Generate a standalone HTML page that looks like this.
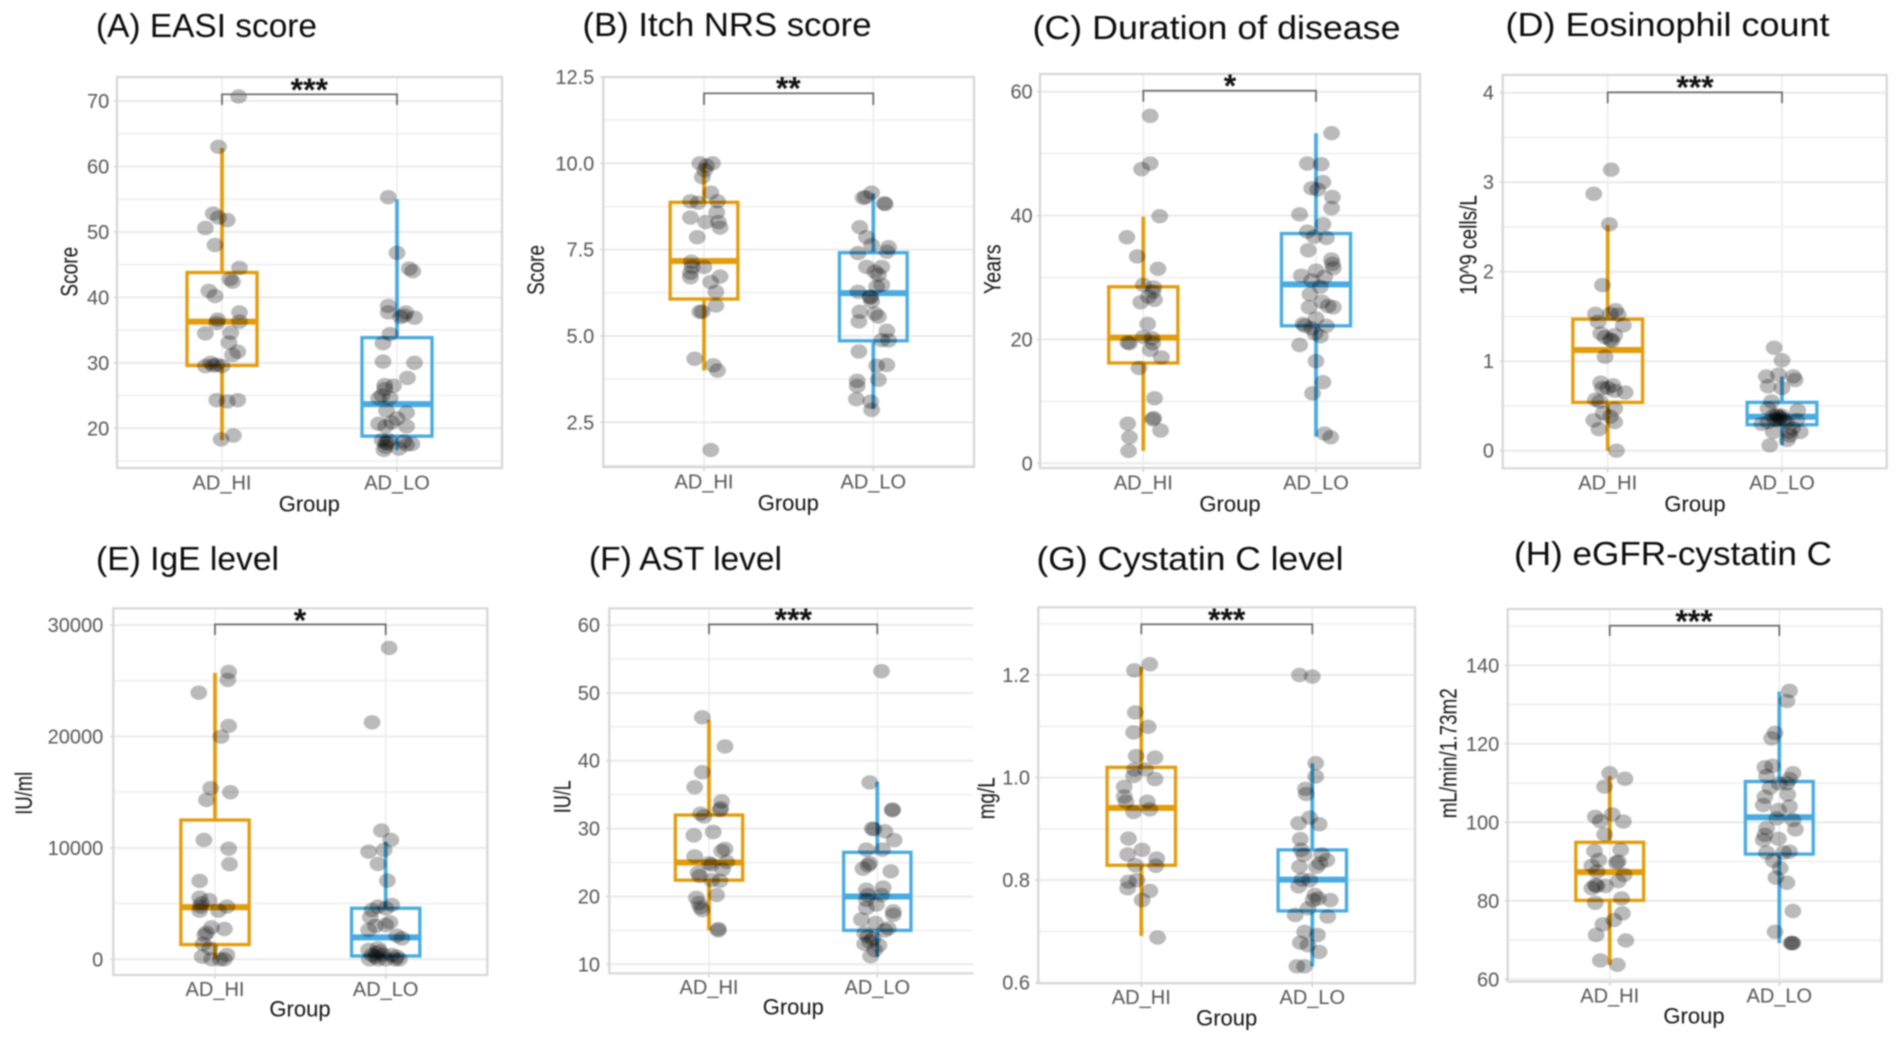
<!DOCTYPE html>
<html lang="en">
<head>
<meta charset="utf-8">
<title>AD_HI vs AD_LO group comparisons</title>
<style>
html,body{margin:0;padding:0;background:#fff;width:1902px;height:1039px;overflow:hidden}
svg{display:block;filter:blur(0.7px);font-family:"Liberation Sans",sans-serif}
.title{font-size:33px;fill:#0a0a0a}
.xt{font-size:22px;fill:#111;text-anchor:middle}
.yt{font-size:24px;fill:#111;text-anchor:middle}
.sig{font-size:32px;font-weight:700;fill:#111;text-anchor:middle}
</style>
</head>
<body>
<svg id="figure" xmlns="http://www.w3.org/2000/svg" width="1902" height="1039" viewBox="0 0 1902 1039">
  <rect width="1902" height="1039" fill="#fff"/>

  <g id="panel-a"></g>
  <g id="panel-b"></g>
  <g id="panel-c"></g>
  <g id="panel-d"></g>
  <g id="panel-e"></g>
  <g id="panel-f"></g>
  <g id="panel-g"></g>
  <g id="panel-h"></g>

  <text class="title" x="96" y="37" textLength="221" lengthAdjust="spacingAndGlyphs">(A) EASI score</text>
  <text class="title" x="582.5" y="36" textLength="289" lengthAdjust="spacingAndGlyphs">(B) Itch NRS score</text>
  <text class="title" x="1032.5" y="39" textLength="368" lengthAdjust="spacingAndGlyphs">(C) Duration of disease</text>
  <text class="title" x="1505.5" y="36" textLength="324" lengthAdjust="spacingAndGlyphs">(D) Eosinophil count</text>
  <text class="title" x="96" y="570" textLength="183" lengthAdjust="spacingAndGlyphs">(E) IgE level</text>
  <text class="title" x="589" y="570" textLength="193" lengthAdjust="spacingAndGlyphs">(F) AST level</text>
  <text class="title" x="1036.5" y="570" textLength="307" lengthAdjust="spacingAndGlyphs">(G) Cystatin C level</text>
  <text class="title" x="1514" y="565" textLength="318" lengthAdjust="spacingAndGlyphs">(H) eGFR-cystatin C</text>

  <text class="xt" x="309.3" y="511.7">Group</text>
  <text class="xt" x="788.3" y="510.7">Group</text>
  <text class="xt" x="1230" y="511.7">Group</text>
  <text class="xt" x="1695" y="511.7">Group</text>
  <text class="xt" x="300" y="1016.7">Group</text>
  <text class="xt" x="793.3" y="1014.3">Group</text>
  <text class="xt" x="1226.7" y="1025.7">Group</text>
  <text class="xt" x="1694" y="1023.3">Group</text>

  <text class="yt" transform="translate(77.5,271.7) rotate(-90)" textLength="50" lengthAdjust="spacingAndGlyphs">Score</text>
  <text class="yt" transform="translate(544,270) rotate(-90)" textLength="50" lengthAdjust="spacingAndGlyphs">Score</text>
  <text class="yt" transform="translate(1000.5,269.3) rotate(-90)" textLength="50" lengthAdjust="spacingAndGlyphs">Years</text>
  <text class="yt" transform="translate(1476.5,245) rotate(-90)" textLength="100" lengthAdjust="spacingAndGlyphs">10^9 cells/L</text>
  <text class="yt" transform="translate(32,793.3) rotate(-90)" textLength="43" lengthAdjust="spacingAndGlyphs">IU/ml</text>
  <text class="yt" transform="translate(570.5,796.7) rotate(-90)" textLength="33" lengthAdjust="spacingAndGlyphs">IU/L</text>
  <text class="yt" transform="translate(994.5,798.3) rotate(-90)" textLength="42" lengthAdjust="spacingAndGlyphs">mg/L</text>
  <text class="yt" transform="translate(1456.5,753.3) rotate(-90)" textLength="130" lengthAdjust="spacingAndGlyphs">mL/min/1.73m2</text>

  <text class="sig" x="309.3" y="101">***</text>
  <text class="sig" x="788.3" y="99.3">**</text>
  <text class="sig" x="1230" y="97">*</text>
  <text class="sig" x="1695" y="98.7">***</text>
  <text class="sig" x="300" y="631.7">*</text>
  <text class="sig" x="793.3" y="631">***</text>
  <text class="sig" x="1226.7" y="631">***</text>
  <text class="sig" x="1694" y="632.7">***</text>
</svg>

<script>
const categories = ['AD_HI', 'AD_LO'];

/* Box summaries are: lower whisker, Q1, median, Q3, upper whisker */
/* Jitter is the horizontal offset of a point, in category units */

const easiTicks = [20, 30, 40, 50, 60, 70];
const easiHiBox = [18.2, 29.6, 36.3, 43.8, 62.8];
const easiLoBox = [16.7, 18.8, 23.7, 33.85, 55];
const easiHiValues = [70.7,63,52.8,52.2,51.8,50.6,48,44.5,42.8,42.4,41,40.2,37.7,36.6,36.1,36.3,34.5,34.6,33.1,31.7,31.2,30,29.5,29.6,29.5,29.7,24.3,24.1,24.3,18.9,18.3];
const easiHiJitter = [.095,-.02,-.05,-.02,.03,-.095,-.04,.1,.045,.06,-.075,-.04,.1,-.025,-.03,.1,-.095,.05,.04,.09,.06,-.065,-.095,-.05,0,-.03,-.03,.03,.09,.065,-.005];
const easiLoValues = [55.3,46.8,44.4,44,38.7,37.7,37.7,37,37.2,36.9,34.4,33,30.2,30,27.7,26.6,26.5,26,25,24.6,24.6,22.7,22.4,21.5,20.9,20.7,20.3,20.3,18.2,17.8,18.2,18,17.6,17.5,16.7,16.9,17.2,17.7];
const easiLoJitter = [-.05,0,.07,.09,-.05,-.05,.05,.02,.04,.1,-.04,-.08,-.08,.1,.06,-.07,-.02,-.07,-.085,-.105,-.04,-.06,.055,0,-.03,-.105,-.065,.055,-.085,-.065,-.05,.04,.085,.055,-.075,.01,-.065,-.055];

const itchTicks = [2.5, 5, 7.5, 10, 12.5];
const itchHiBox = [4, 6.07, 7.17, 8.87, 10];
const itchLoBox = [2.88, 4.86, 6.24, 7.41, 9.13];
const itchHiValues = [10,10,9.93,9.8,9.6,9.15,8.9,8.86,8.9,8.58,8.43,8.3,8.3,8.14,7.86,7.15,7,7,6.83,6.7,6.72,6.56,6.28,5.88,5.7,5.7,4.34,4.15,4,1.7];
const itchHiJitter = [-.025,.05,.015,.005,-.01,.04,-.08,-.035,.08,.075,-.08,.01,.085,.095,-.04,-.075,-.07,0,-.08,-.08,.095,.04,.07,.07,-.025,-.01,-.055,.055,.08,.04];
const itchLoValues = [9.15,9,9.02,8.84,8.82,8.15,7.86,7.63,7.57,7.44,7.4,7,7,6.86,6.77,6.48,6.43,6.28,6.14,6.12,6,5.7,5.65,5.56,5.42,5.15,4.87,4.88,4.55,4.14,4.16,3.73,3.7,3.55,3.17,3.1,2.86];
const itchLoJitter = [-.01,-.06,-.045,.065,.07,-.08,-.04,-.01,.09,.08,-.09,.05,-.04,.01,.03,.05,.02,-.09,-.02,-.015,-.01,-.08,.01,.03,-.085,.08,.09,.05,-.085,.02,.08,.03,-.095,-.095,-.1,-.015,-.01];

const durationTicks = [0, 20, 40, 60];
const durationHiBox = [2, 16.2, 20.3, 28.5, 39.8];
const durationLoBox = [4.3, 22.2, 28.9, 37.1, 53.3];
const durationHiValues = [56.1,48.4,47.5,39.9,36.5,33.4,31.4,28.8,28.4,27.7,26.9,26.4,26,22.5,20.4,20.2,19.5,19.4,19.4,18.3,17.1,15.4,10.5,7.3,7.1,5.3,6.4,4.2,2];
const durationHiJitter = [.04,.04,-.01,.095,-.095,-.035,.085,0,.06,.055,.03,.065,-.015,.025,0,.05,-.09,-.08,.055,.04,.105,-.025,.065,.06,.055,.1,-.09,-.08,-.085];
const durationLoValues = [53.3,48.4,48.3,45.4,44.4,44.2,43,41.2,40.2,38.6,37.4,36.6,36.4,34.4,32.9,32.2,31.5,31.1,30.3,30.1,29.5,28.5,27.3,26.1,25.2,25.4,25.2,23.4,22.5,22.2,22.2,21.8,21,20.5,19.1,16.5,13.1,11.3,4.8,4.2];
const durationLoJitter = [.09,-.05,.03,.04,-.025,.01,.095,.09,-.095,.04,-.05,-.01,.06,-.045,.09,.095,.1,0,-.085,.05,-.025,.025,-.035,.035,-.04,.07,.1,0,-.075,-.065,.06,-.025,-.005,.025,-.095,0,.04,-.02,.05,.085];

const eosinophilTicks = [0, 1, 2, 3, 4];
const eosinophilHiBox = [0, .54, 1.125, 1.47, 2.52];
const eosinophilLoBox = [.06, .29, .38, .54, .83];
const eosinophilHiValues = [3.14,2.87,2.53,1.85,1.53,1.57,1.53,1.52,1.44,1.4,1.31,1.29,1.27,1.24,1.23,1.05,.76,.73,.7,.67,.65,.7,.57,.55,.47,.38,.34,.32,.24,.42,0];
const eosinophilHiJitter = [.02,-.08,.01,-.03,-.07,.045,.015,.06,-.055,.09,-.04,.04,-.015,.015,.025,-.015,-.04,.03,-.03,.04,.1,0,-.07,-.045,.04,.015,-.08,.04,-.05,-.025,.05];
const eosinophilLoValues = [1.15,1.01,.85,.83,.83,.79,.72,.7,.55,.45,.47,.4,.38,.36,.35,.35,.39,.34,.39,.32,.32,.3,.34,.21,.21,.25,.21,.12,.06,.17];
const eosinophilLoJitter = [-.045,0,-.02,-.09,.065,.075,-.08,0,-.06,.09,-.08,-.03,-.02,-.01,-.04,.01,-.05,-.025,0,.025,-.08,-.115,.085,-.05,.04,.06,.105,.03,-.07,.045];

const igeTicks = [0, 10000, 20000, 30000];
const igeHiBox = [0, 1320, 4670, 12500, 25700];
const igeLoBox = [0, 300, 1970, 4580, 10560];
const igeHiValues = [25790,25070,23930,20940,19980,15350,14990,14300,10710,9930,8530,7030,5530,5320,5030,4730,4370,4730,4370,2870,2720,2390,2180,1380,990,240,390,0,0,0];
const igeHiJitter = [.08,.075,-.095,.08,.035,-.025,.09,-.05,-.065,.08,.085,-.09,-.09,-.035,-.08,-.085,-.09,.07,.02,-.02,.055,-.05,-.06,-.07,-.03,-.075,.07,-.02,.03,.055];
const igeLoValues = [27940,21270,11550,10710,9810,9660,8560,7060,4730,4880,4580,4430,3770,3320,3080,2990,2630,2120,1880,840,990,690,390,240,390,390,240,0,0,0,0,0,540];
const igeLoJitter = [.02,-.08,-.025,.03,-.01,-.1,-.045,.01,-.045,.035,0,-.08,-.09,.025,0,-.06,-.1,.065,.095,-.1,-.045,-.035,-.08,-.06,-.015,.035,.065,-.095,-.045,0,.055,.08,-.055];

const astTicks = [10, 20, 30, 40, 50, 60];
const astHiBox = [15, 22.4, 25, 32, 46];
const astLoBox = [11.1, 15, 20, 26.5, 36.9];
const astHiValues = [46.4,42.1,38.3,36.1,34,33,32.7,32.2,31.8,29,29.5,27,26.7,25.9,25.1,24.9,24.7,24,23.5,23,22.4,22.3,20.2,19.8,19,18.4,18,15.2,15];
const astHiJitter = [-.04,.095,-.04,-.085,.075,.07,.065,-.05,-.03,-.09,.025,.095,.075,-.085,.105,0,.015,.08,-.065,-.055,.015,.065,.045,-.075,-.06,-.05,-.04,.055,.055];
const astLoValues = [53.2,36.8,32.8,32.7,30,29.9,29.6,28.3,26.9,26.9,24.9,24.6,24.1,23.7,21,21.3,20.2,20.2,19.5,18.8,18.3,17.8,17.3,16.6,16.1,15.3,15,14.6,14.1,13.8,13,12.8,13.3,12.1,11.2];
const astLoJitter = [.025,-.045,.09,.09,-.03,-.02,.045,.1,-.065,.03,-.045,-.055,-.085,.08,-.065,.035,-.055,.025,-.065,-.005,-.065,.095,.095,-.095,-.01,.065,.045,-.075,-.055,-.025,-.075,.01,-.045,-.015,-.04];

const cystatinTicks = [0.6, 0.8, 1.0, 1.2];
const cystatinHiBox = [.691, .829, .941, 1.02, 1.216];
const cystatinLoBox = [.632, .74, .801, .859, 1.028];
const cystatinHiValues = [1.221,1.209,1.127,1.099,1.088,1.042,1.039,1.016,1.016,1.003,.997,.982,.963,.953,.953,.938,.933,.881,.859,.85,.842,.829,.828,.797,.8,.784,.779,.761,.688];
const cystatinHiJitter = [.05,-.04,-.035,.04,-.045,-.03,.08,-.04,.025,-.045,.08,-.1,-.1,-.09,.035,.05,-.045,-.075,.005,-.08,.09,-.035,.085,-.075,-.025,-.08,.05,.005,.095];
const cystatinLoValues = [1.2,1.197,1.028,1.002,.978,.968,.922,.911,.909,.88,.859,.849,.85,.839,.833,.826,.826,.801,.788,.8,.771,.764,.761,.761,.745,.732,.729,.699,.693,.678,.673,.66,.632,.632];
const cystatinLoJitter = [-.075,0,.02,.02,-.04,-.035,-.015,-.08,.04,-.07,-.065,-.05,.055,.085,.045,-.075,.025,-.06,-.08,-.015,.015,.035,.105,.005,-.025,-.1,.09,-.045,.03,-.07,-.025,.04,-.09,-.045];

const egfrTicks = [60, 80, 100, 120, 140];
const egfrHiBox = [63.7, 80.1, 87.3, 94.9, 111.8];
const egfrLoBox = [69.2, 91.9, 101.3, 110.4, 133.3];
const egfrHiValues = [112.5,111.1,109.1,101.4,102,100.3,100.2,96.9,92.7,93,90.4,90,89.7,88.9,87.4,86.6,85,84,83.8,83.2,83.8,80.6,79.5,76.8,75.1,74,71.3,69.9,64.8,63.7];
const egfrHiJitter = [0,.09,-.03,-.085,.015,-.055,.08,-.03,-.09,.065,-.065,.05,.04,-.105,-.075,.085,.05,-.085,-.025,-.105,-.075,.07,-.085,.075,.025,-.04,-.08,.095,-.055,.045];
const egfrLoValues = [133.5,130.9,122.8,121.4,114,114.4,111.8,112.5,111,109.9,109.9,108.8,107.1,106.5,104.4,104,103.1,101,100.6,98.5,98.2,96.8,95.5,95.8,92.3,92.3,92.5,90.2,88.3,85.9,84.6,77.4,72.1,69.2,69.2,69.3];
const egfrLoJitter = [.06,.045,-.025,-.045,-.085,-.04,-.075,.08,.06,.045,0,-.055,.05,-.085,-.095,.06,-.005,-.015,.08,-.075,.095,-.085,-.095,-.005,-.075,.025,.06,-.035,.005,-.02,.045,.08,-.025,.07,.08,.075];

/* Panel layout: frame edges, category centres and two calibration anchors for the y axis */
const panels = [
  {id:'panel-a', key:'a', left:117, right:502, top:77, bottom:468, c0:222, c1:397, v0:20, p0:428.3, v1:70, p1:101, labelRight:109.3, xLabelY:489.3, bracketY:94.3, bracketTip:105, ticks:easiTicks, hiBox:easiHiBox, loBox:easiLoBox, hi:easiHiValues, hiJ:easiHiJitter, lo:easiLoValues, loJ:easiLoJitter},
  {id:'panel-b', key:'b', left:603.3, right:974, top:77, bottom:467, c0:704, c1:873.3, v0:2.5, p0:422.3, v1:10, p1:163.3, labelRight:594.3, xLabelY:488.3, bracketY:93.3, bracketTip:105, ticks:itchTicks, hiBox:itchHiBox, loBox:itchLoBox, hi:itchHiValues, hiJ:itchHiJitter, lo:itchLoValues, loJ:itchLoJitter},
  {id:'panel-c', key:'c', left:1040, right:1420, top:74, bottom:468, c0:1143.3, c1:1316, v0:0, p0:463.3, v1:60, p1:91.7, labelRight:1032.7, xLabelY:489.3, bracketY:90.7, bracketTip:101.7, ticks:durationTicks, hiBox:durationHiBox, loBox:durationLoBox, hi:durationHiValues, hiJ:durationHiJitter, lo:durationLoValues, loJ:durationLoJitter},
  {id:'panel-d', key:'d', left:1502.7, right:1886.7, top:75, bottom:468.3, c0:1607.7, c1:1782, v0:0, p0:450.7, v1:4, p1:92.7, labelRight:1494, xLabelY:489.3, bracketY:92.3, bracketTip:103.3, ticks:eosinophilTicks, hiBox:eosinophilHiBox, loBox:eosinophilLoBox, hi:eosinophilHiValues, hiJ:eosinophilHiJitter, lo:eosinophilLoValues, loJ:eosinophilLoJitter},
  {id:'panel-e', key:'e', left:113.3, right:487.3, top:608.3, bottom:975, c0:215, c1:385.7, v0:0, p0:959.3, v1:30000, p1:625, labelRight:103.3, xLabelY:996, bracketY:624.3, bracketTip:635, ticks:igeTicks, hiBox:igeHiBox, loBox:igeLoBox, hi:igeHiValues, hiJ:igeHiJitter, lo:igeLoValues, loJ:igeLoJitter},
  {id:'panel-f', key:'f', left:609.3, right:973.3, top:608.3, bottom:973.3, c0:709, c1:877.3, v0:10, p0:964.3, v1:60, p1:625, labelRight:600, xLabelY:994, bracketY:624.3, bracketTip:634.3, open:true, ticks:astTicks, hiBox:astHiBox, loBox:astLoBox, hi:astHiValues, hiJ:astHiJitter, lo:astLoValues, loJ:astLoJitter},
  {id:'panel-g', key:'g', left:1038.3, right:1415, top:607.3, bottom:983.3, c0:1141.3, c1:1312.3, v0:0.6, p0:982.7, v1:1.2, p1:675, labelRight:1030, xLabelY:1004, bracketY:624.3, bracketTip:634.3, decimals:1, ticks:cystatinTicks, hiBox:cystatinHiBox, loBox:cystatinLoBox, hi:cystatinHiValues, hiJ:cystatinHiJitter, lo:cystatinLoValues, loJ:cystatinLoJitter},
  {id:'panel-h', key:'h', left:1507.7, right:1881.7, top:609, bottom:981.7, c0:1609.7, c1:1779.3, v0:60, p0:979.3, v1:140, p1:665.3, labelRight:1499.3, xLabelY:1002.3, bracketY:625.7, bracketTip:636, ticks:egfrTicks, hiBox:egfrHiBox, loBox:egfrLoBox, hi:egfrHiValues, hiJ:egfrHiJitter, lo:egfrLoValues, loJ:egfrLoJitter}
];

const SVG_NS = 'http://www.w3.org/2000/svg';
const seriesColors = ['#E39C0C', '#48ABE2'];
const boxWidth = 0.4;

function svgEl(tag, props, parent) {
  const n = document.createElementNS(SVG_NS, tag);
  for (const k in props) n.setAttribute(k, props[k]);
  parent.appendChild(n);
  return n;
}
function yScale(p) {
  const m = (p.p1 - p.p0) / (p.v1 - p.v0);
  return v => p.p0 + (v - p.v0) * m;
}
function yInvert(p, px) {
  return p.v0 + (px - p.p0) * (p.v1 - p.v0) / (p.p1 - p.p0);
}
function xScale(p) {
  return (cat, off) => p.c0 + (cat + (off || 0)) * (p.c1 - p.c0);
}

function drawPanel(p) {
  const g = document.getElementById(p.id);
  const y = yScale(p);
  const x = xScale(p);
  const ticks = p.ticks;
  const step = ticks[1] - ticks[0];
  const lo = Math.min(yInvert(p, p.bottom), yInvert(p, p.top));
  const hi = Math.max(yInvert(p, p.bottom), yInvert(p, p.top));

  /* minor grid at midpoints between ticks, continuing while inside the frame */
  for (let v = ticks[0] - step / 2; v < hi; v += step) {
    if (v <= lo) continue;
    const line = svgEl('line', {x1:p.left, x2:p.right, y1:y(v), y2:y(v), stroke:'#f0f0f0', 'stroke-width':1.8}, g);
    
    
  }
  /* major grid and y tick labels */
  ticks.forEach(t => {
    const line = svgEl('line', {x1:p.left, x2:p.right, y1:y(t), y2:y(t), stroke:'#eaeaea', 'stroke-width':2}, g);
    
    

    const mark = svgEl('line', {x1:p.left - 3, x2:p.left, y1:y(t), y2:y(t), stroke:'#c4c4c4', 'stroke-width':1.2}, g);
    
    

    const label = svgEl('text', {x:p.labelRight, y:y(t) + 7, 'text-anchor':'end', 'font-size':20, fill:'#555'}, g);
    
    
    label.textContent = p.decimals ? t.toFixed(p.decimals) : (Number.isInteger(t) && step % 1 === 0 ? String(t) : t.toFixed(1));
  });

  /* vertical grid, x tick marks and category labels */
  categories.forEach((c, i) => {
    const line = svgEl('line', {x1:x(i), x2:x(i), y1:p.top, y2:p.bottom, stroke:'#ececec', 'stroke-width':1.5}, g);
    
    

    const mark = svgEl('line', {x1:x(i), x2:x(i), y1:p.bottom, y2:p.bottom + 4, stroke:'#c4c4c4', 'stroke-width':1.2}, g);
    
    

    const label = svgEl('text', {x:x(i), y:p.xLabelY, 'text-anchor':'middle', 'font-size':20, fill:'#555'}, g);
    
    
    label.textContent = c;
  });

  /* frame */
  const framePath = p.open
    ? 'M' + p.right + ' ' + p.top + 'H' + p.left + 'V' + p.bottom + 'H' + p.right
    : 'M' + p.left + ' ' + p.top + 'H' + p.right + 'V' + p.bottom + 'H' + p.left + 'Z';
  const frame = svgEl('path', {d:framePath, fill:'none', stroke:'#d6d6d6', 'stroke-width':2.2}, g);
  
  

  /* boxes */
  [p.hiBox, p.loBox].forEach((b, i) => {
    const color = seriesColors[i];
    const left = x(i, -boxWidth / 2);
    const right = x(i, boxWidth / 2);

    const upper = svgEl('line', {x1:x(i), x2:x(i), y1:y(b[3]), y2:y(b[4]), stroke:color, 'stroke-width':3.7}, g);
    
    

    const lower = svgEl('line', {x1:x(i), x2:x(i), y1:y(b[1]), y2:y(b[0]), stroke:color, 'stroke-width':3.7}, g);
    
    

    const rect = svgEl('rect', {x:left, width:right - left, y:y(b[3]), height:y(b[1]) - y(b[3]), fill:'none', stroke:color, 'stroke-width':3.3}, g);
    
    

    const median = svgEl('line', {x1:left, x2:right, y1:y(b[2]), y2:y(b[2]), stroke:color, 'stroke-width':6}, g);
    
    
  });

  /* jittered points */
  [[p.hi, p.hiJ], [p.lo, p.loJ]].forEach((s, i) => {
    s[0].forEach((v, k) => {
      const dot = svgEl('ellipse', {cx:x(i, s[1][k]), cy:y(v), rx:8.4, ry:7.2, fill:'#000', 'fill-opacity':0.27}, g);
      
      
    });
  });

  /* significance bracket */
  const bracketPath = 'M' + x(0) + ' ' + p.bracketTip + 'V' + p.bracketY + 'H' + x(1) + 'V' + p.bracketTip;
  const bracket = svgEl('path', {d:bracketPath, fill:'none', stroke:'#666', 'stroke-width':1.7}, g);
  
  
}

panels.forEach(drawPanel);
</script>
</body>
</html>
